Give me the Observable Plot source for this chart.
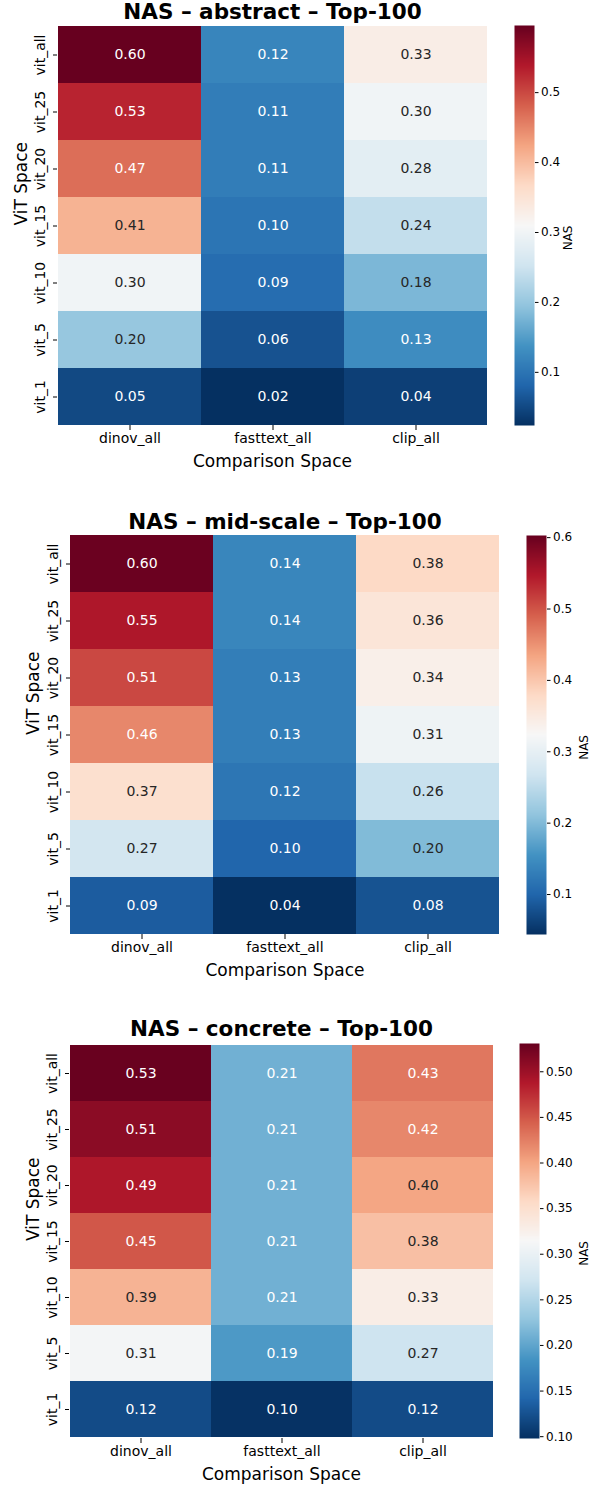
<!DOCTYPE html>
<html><head><meta charset="utf-8">
<script src="https://cdn.jsdelivr.net/npm/d3@7"></script>
<script src="https://cdn.jsdelivr.net/npm/@observablehq/plot@0.6"></script>
<style>
body{margin:0;background:#fff;font-family:"DejaVu Sans",sans-serif;}
#root{position:relative;width:599px;height:1486px;overflow:hidden;background:#fff}
.panel{position:absolute;left:0;width:599px}
.panel svg{position:absolute;top:0;overflow:visible}
</style></head><body><div id="root"></div>
<script>
// ---- data ----
const rows = ["vit_all","vit_25","vit_20","vit_15","vit_10","vit_5","vit_1"];
const cols = ["dinov_all","fasttext_all","clip_all"];
const titles = ["NAS – abstract – Top-100","NAS – mid-scale – Top-100","NAS – concrete – Top-100"];

const abstractDinov    = [0.60,0.53,0.47,0.41,0.30,0.20,0.05];
const abstractFasttext = [0.12,0.11,0.11,0.10,0.09,0.06,0.02];
const abstractClip     = [0.33,0.30,0.28,0.24,0.18,0.13,0.04];

const midDinov    = [0.60,0.55,0.51,0.46,0.37,0.27,0.09];
const midFasttext = [0.14,0.14,0.13,0.13,0.12,0.10,0.04];
const midClip     = [0.38,0.36,0.34,0.31,0.26,0.20,0.08];

const concreteDinov    = [0.53,0.51,0.49,0.45,0.39,0.31,0.12];
const concreteFasttext = [0.21,0.21,0.21,0.21,0.21,0.19,0.10];
const concreteClip     = [0.43,0.42,0.40,0.38,0.33,0.27,0.12];

const colorDomains = [[0.024,0.596],[0.044,0.603],[0.098,0.531]];
const colorbarTicks = [
  [0.1,0.2,0.3,0.4,0.5],
  [0.1,0.2,0.3,0.4,0.5,0.6],
  [0.10,0.15,0.20,0.25,0.30,0.35,0.40,0.45,0.50]
];
const colorbarTickFormats = [".1f",".1f",".2f"];
const colorbarLabel = "NAS";
const xLabel = "Comparison Space";
const yLabel = "ViT Space";

// ---- style / layout ----
const RdBu_r = ["#053061","#2166ac","#4393c3","#92c5de","#d1e5f0","#f7f7f7","#fddbc7","#f4a582","#d6604d","#b2182b","#67001f"];
const interp = d3.piecewise(d3.interpolateRgb, RdBu_r);
const FONT = '"DejaVu Sans", sans-serif';
const layouts = [
  {T:0,    H:495, L:57, R:487, Y0:25,   Y1:425,  CL:514, titleY:12,   nasDx:34, yLabX:21},
  {T:495,  H:505, L:70, R:499, Y0:535,  Y1:934,  CL:526, titleY:522,  nasDx:38, yLabX:33},
  {T:1000, H:486, L:69, R:493, Y0:1043, Y1:1438, CL:519, titleY:1029, nasDx:45, yLabX:33}
];

function lum(c) {
  const {r,g,b} = d3.rgb(c);
  const f = v => { v /= 255; return v <= 0.03928 ? v/12.92 : Math.pow((v+0.055)/1.055, 2.4); };
  return 0.2126*f(r) + 0.7152*f(g) + 0.0722*f(b);
}

const root = document.getElementById("root");

function panel(i, values) {
  const lay = layouts[i];
  const {T,H,L,R,Y0,Y1,CL} = lay;
  const [d0,d1] = colorDomains[i];
  const data = [];
  cols.forEach((c,ci) => rows.forEach((r,ri) => data.push({col:c,row:r,v:values[ci][ri]})));
  const tOf = v => Math.max(0, Math.min(1, (v-d0)/(d1-d0)));
  const isLight = d => lum(interp(tOf(d.v))) > 0.408;
  const colorOpts = {type:"linear", domain:[d0,d1], interpolate: interp, clamp:true};

  const div = document.createElement("div");
  div.className = "panel";
  div.style.top = T + "px";
  div.style.height = H + "px";
  root.appendChild(div);

  const heat = Plot.plot({
    width:599, height:H,
    marginLeft:L, marginRight:599-R, marginTop:Y0-T, marginBottom:T+H-Y1,
    style:{fontFamily:FONT, fontSize:"14px", color:"#000", background:"transparent", overflow:"visible"},
    x:{type:"band", domain:cols, padding:0},
    y:{type:"band", domain:rows, padding:0},
    color: colorOpts,
    marks:[
      Plot.cell(data, {x:"col", y:"row", fill:"v"}),
      Plot.text(data, {filter: d => !isLight(d), x:"col", y:"row", text: d => d.v.toFixed(2), fill:"white", fontSize:14}),
      Plot.text(data, {filter: d => isLight(d), x:"col", y:"row", text: d => d.v.toFixed(2), fill:"#262626", fontSize:14}),
      Plot.axisX({tickSize:5, tickPadding:3, fontSize:14, label:null, stroke:"#000"}),
      Plot.axisY({tickSize:4, tickFormat: () => "", label:null, stroke:"#000"}),
      Plot.text(rows, {y: d => d, frameAnchor:"left", dx:-17, rotate:-90, textAnchor:"middle", lineAnchor:"middle", fontSize:14, fill:"#000"}),
      Plot.text([titles[i]], {frameAnchor:"top", dy:lay.titleY-Y0, lineAnchor:"middle", fontSize:21.5, fontWeight:"bold", fill:"#000"}),
      Plot.text([xLabel], {frameAnchor:"bottom", dy:36, lineAnchor:"middle", fontSize:17, fill:"#000"}),
      Plot.text([yLabel], {frameAnchor:"left", dx:lay.yLabX-L, rotate:-90, lineAnchor:"middle", fontSize:17, fill:"#000"})
    ]
  });
  heat.style.left = "0px";
  div.appendChild(heat);

  const bar = Plot.plot({
    width:80, height:H,
    marginLeft:0, marginRight:60, marginTop:Y0-T, marginBottom:T+H-Y1,
    style:{fontFamily:FONT, fontSize:"12px", color:"#000", background:"transparent", overflow:"visible"},
    x:{domain:[0,1], axis:null},
    y:{domain:[d0,d1]},
    color: colorOpts,
    marks:[
      Plot.raster({x1:0, x2:1, y1:d0, y2:d1, width:1, height:400, fill:(x,y) => y, imageRendering:"auto"}),
      Plot.axisY({anchor:"right", ticks:colorbarTicks[i], tickFormat:d3.format(colorbarTickFormats[i]), tickSize:3.5, tickPadding:3, fontSize:12, label:null, stroke:"#000"}),
      Plot.text([colorbarLabel], {frameAnchor:"right", dx:lay.nasDx, rotate:-90, lineAnchor:"middle", fontSize:12, fill:"#000"})
    ]
  });
  bar.style.left = CL + "px";
  div.appendChild(bar);
}

panel(0, [abstractDinov, abstractFasttext, abstractClip]);
panel(1, [midDinov, midFasttext, midClip]);
panel(2, [concreteDinov, concreteFasttext, concreteClip]);
</script>
</body></html>
